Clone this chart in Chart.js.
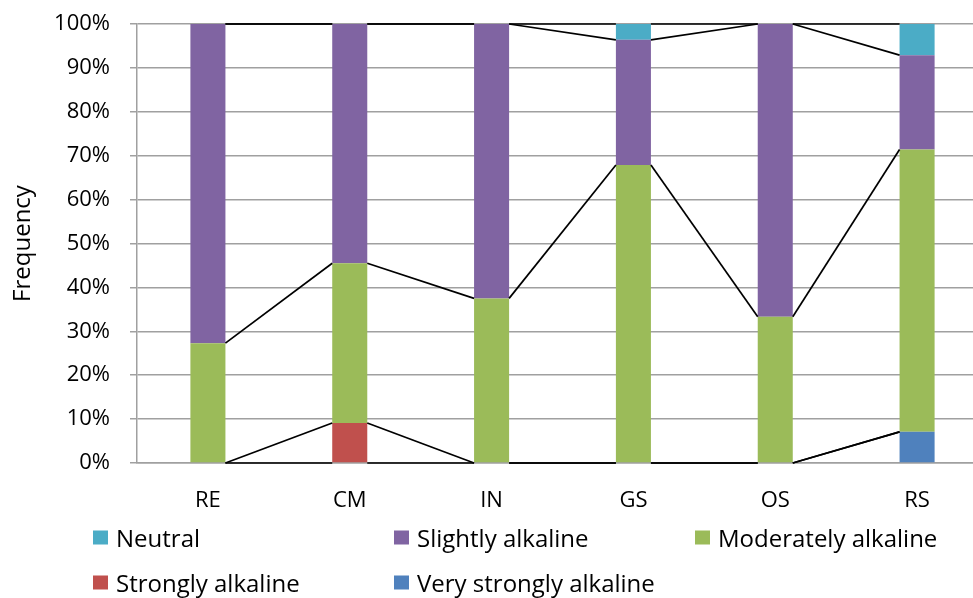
<!DOCTYPE html>
<html>
<head>
<meta charset="utf-8">
<script src="https://cdn.jsdelivr.net/npm/chart.js@4.4.1/dist/chart.umd.min.js"></script>
<style>
  html, body { margin: 0; padding: 0; background: #fff; overflow: hidden; }
  #wrap { position: relative; width: 990px; height: 598px; }
  #legend { position: absolute; left: 0; top: 0; width: 973px; height: 598px; pointer-events: none;
            font-family: "Open Sans", sans-serif; font-size: 24px; color: #000; }
  .item { position: absolute; display: flex; align-items: center; white-space: nowrap; transform: translateY(-50%); }
  .swatch { width: 15px; height: 14px; margin-right: 8px; }
</style>
</head>
<body>
<div id="wrap">
  <canvas id="chart"></canvas>
  <div id="legend"></div>
</div>
<script>
// Sites along the x axis
const categories = ['RE', 'CM', 'IN', 'GS', 'OS', 'RS'];

// Share of samples per pH class at each site (%)
const veryStronglyAlkaline = [0, 0, 0, 0, 0, 7.1];
const stronglyAlkaline     = [0, 9.1, 0, 0, 0, 0];
const moderatelyAlkaline   = [27.3, 36.4, 37.5, 67.9, 33.3, 64.3];
const slightlyAlkaline     = [72.7, 54.5, 62.5, 28.5, 66.7, 21.5];
const neutral              = [0, 0, 0, 3.6, 0, 7.1];

// Y axis tick values (%)
const yTicks = [0, 10, 20, 30, 40, 50, 60, 70, 80, 90, 100];

const FONT = '"Open Sans", sans-serif';

// Bottom-to-top stacking order
const series = [
  { label: 'Very strongly alkaline', data: veryStronglyAlkaline, color: '#4F81BD' },
  { label: 'Strongly alkaline',      data: stronglyAlkaline,     color: '#C0504D' },
  { label: 'Moderately alkaline',    data: moderatelyAlkaline,   color: '#9BBB59' },
  { label: 'Slightly alkaline',      data: slightlyAlkaline,     color: '#8064A2' },
  { label: 'Neutral',                data: neutral,              color: '#4BACC6' }
];

// Series lines joining the top of each segment to the same segment of the next bar
const seriesLines = {
  id: 'seriesLines',
  afterDatasetsDraw(chart) {
    const ctx = chart.ctx;
    ctx.save();
    ctx.strokeStyle = '#000';
    ctx.lineWidth = 1.7;
    chart.data.datasets.forEach((ds, d) => {
      const bars = chart.getDatasetMeta(d).data;
      for (let i = 0; i < bars.length - 1; i++) {
        const a = bars[i], b = bars[i + 1];
        ctx.beginPath();
        ctx.moveTo(a.x + a.width / 2, a.y);
        ctx.lineTo(b.x - b.width / 2, b.y);
        ctx.stroke();
      }
    });
    ctx.restore();
  }
};

new Chart(document.getElementById('chart'), {
  type: 'bar',
  data: {
    labels: categories,
    datasets: series.map(s => ({
      label: s.label,
      data: s.data,
      backgroundColor: s.color,
      borderWidth: 0,
      barPercentage: 0.247,
      categoryPercentage: 1
    }))
  },
  options: {
    responsive: true,
    maintainAspectRatio: false,
    animation: false,
    layout: { padding: { top: 24, right: 2, left: 0, bottom: 0 } },
    plugins: { legend: { display: false }, tooltip: { enabled: false } },
    scales: {
      x: {
        stacked: true,
        grid: { display: false, drawTicks: false },
        border: { display: true, color: '#a0a0a0', width: 1.5 },
        ticks: { color: '#000', font: { family: FONT, size: 22 }, padding: 25, maxRotation: 0 },
        afterFit(scale) { scale.height = 135; }
      },
      y: {
        stacked: true,
        min: 0,
        max: 100,
        afterBuildTicks(scale) { scale.ticks = yTicks.map(v => ({ value: v })); },
        grid: { color: '#a0a0a0', lineWidth: 1.5, tickLength: 7 },
        border: { display: true, color: '#a0a0a0', width: 1.5 },
        ticks: { color: '#000', font: { family: FONT, size: 22 }, padding: 20,
                 callback: v => v + '%' },
        title: { display: true, text: 'Frequency', color: '#000',
                 font: { family: FONT, size: 24 }, padding: { top: 9, bottom: 0 } },
        afterFit(scale) {
          scale.width = 137;
          scale.paddingTop = 0;
          scale.paddingBottom = 0;
        }
      }
    }
  },
  plugins: [seriesLines]
});

// Legend laid out in columns below the plot
const legendItems = [
  { name: 'Neutral',                x: 93,  y: 537 },
  { name: 'Slightly alkaline',      x: 394, y: 537 },
  { name: 'Moderately alkaline',    x: 695, y: 537 },
  { name: 'Strongly alkaline',      x: 93,  y: 582 },
  { name: 'Very strongly alkaline', x: 394, y: 582 }
];
const legend = document.getElementById('legend');
legendItems.forEach(it => {
  const s = series.find(q => q.label === it.name);
  const el = document.createElement('div');
  el.className = 'item';
  el.style.left = it.x + 'px';
  el.style.top = it.y + 'px';
  el.innerHTML = '<span class="swatch" style="background:' + s.color + '"></span><span>' + it.name + '</span>';
  legend.appendChild(el);
});
</script>
</body>
</html>
